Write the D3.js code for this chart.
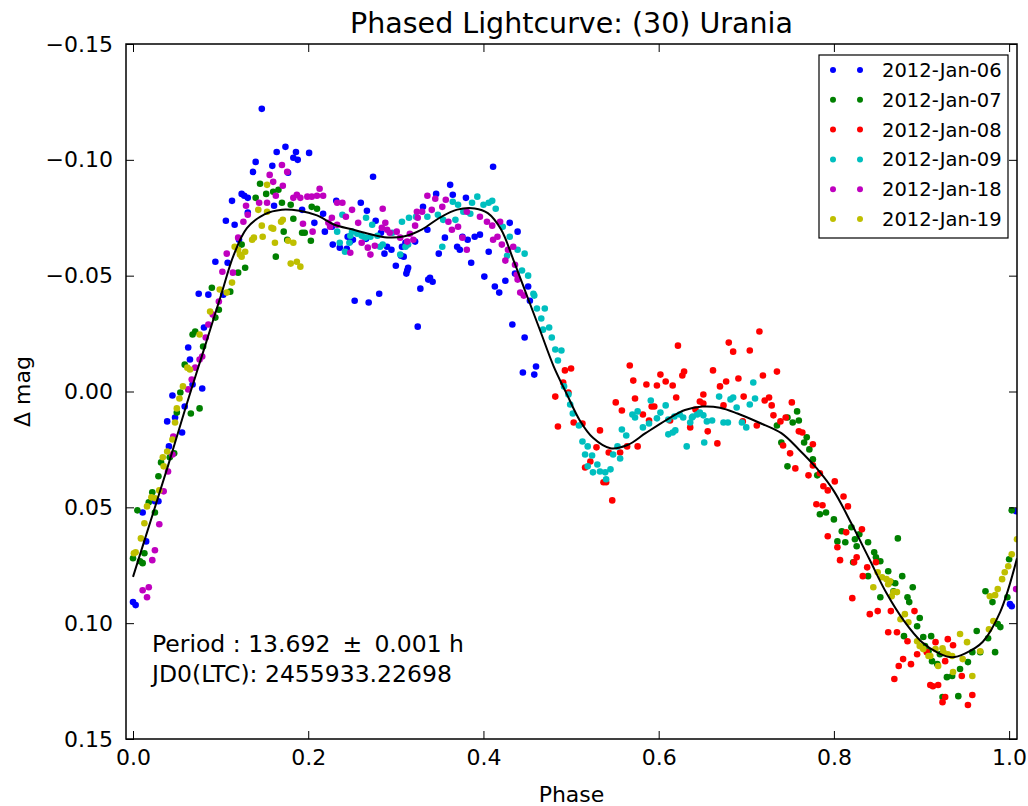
<!DOCTYPE html>
<html>
<head>
<meta charset="utf-8">
<script src="https://cdn.jsdelivr.net/npm/d3@7"></script>
<style>
  body { margin: 0; background: #fff; }
  svg { font-family: "DejaVu Sans", sans-serif; }
</style>
</head>
<body>
<svg width="1028" height="806"></svg>
<script>
// one [phase, delta mag] list per night
let jan06 = [
	[0.000,0.0909],[0.003,0.0922],[0.011,0.0522],[0.015,0.0647],[0.025,0.0474],[0.029,0.0474],[0.041,0.0237],[0.039,0.0129],
	[0.048,0.0112],[0.056,0.0177],[0.045,0.0017],[0.059,0.0065],[0.063,-0.0190],[0.065,-0.0138],[0.068,-0.0030],[0.079,-0.0013],
	[0.081,-0.0276],[0.075,-0.0422],[0.086,-0.0418],[0.103,-0.0418],[0.108,-0.0556],[0.094,-0.0560],
	[0.147,-0.1220],[0.164,-0.1034],[0.174,-0.1056],[0.186,-0.1034],[0.201,-0.1030],[0.183,-0.1009],[0.188,-0.1000],[0.140,-0.0991],
	[0.159,-0.0974],[0.137,-0.0948],[0.177,-0.0944],[0.124,-0.0853],[0.127,-0.0845],[0.131,-0.0836],[0.113,-0.0823],[0.161,-0.0802],
	[0.193,-0.0784],[0.131,-0.0772],[0.217,-0.0767],[0.207,-0.0728],[0.106,-0.0737],[0.116,-0.0720],[0.121,-0.0655],
	[0.232,-0.0823],[0.260,-0.0815],[0.267,-0.0780],[0.274,-0.0927],[0.227,-0.0711],[0.277,-0.0737],[0.245,-0.0668],[0.251,-0.0655],
	[0.228,-0.0634],[0.236,-0.0621],[0.290,-0.0625],[0.295,-0.0612],[0.307,-0.0625],[0.311,-0.0642],[0.300,-0.0543],[0.313,-0.0522],
	[0.314,-0.0534],[0.306,-0.0586],[0.309,-0.0582],[0.253,-0.0392],[0.269,-0.0384],[0.281,-0.0422],[0.328,-0.0444],[0.325,-0.0280],
	[0.337,-0.0483],[0.287,-0.0595],[0.244,-0.0616],[0.248,-0.0647],[0.266,-0.0659],[0.219,-0.0690],[0.283,-0.0685],[0.331,-0.0797],
	[0.322,-0.0647],[0.411,-0.0970],[0.362,-0.0892],[0.346,-0.0853],[0.365,-0.0849],[0.380,-0.0836],[0.336,-0.0698],[0.356,-0.0664],
	[0.376,-0.0668],[0.382,-0.0655],[0.390,-0.0668],[0.396,-0.0677],[0.430,-0.0728],[0.439,-0.0690],[0.370,-0.0625],[0.373,-0.0612],
	[0.349,-0.0595],[0.386,-0.0556],[0.406,-0.0603],[0.312,-0.0509],[0.339,-0.0491],[0.342,-0.0474],[0.401,-0.0496],[0.413,-0.0453],
	[0.418,-0.0427],[0.425,-0.0478],[0.436,-0.0509],[0.451,-0.0453],[0.453,-0.0392],[0.433,-0.0289],[0.447,-0.0233],[0.460,-0.0108],
	[0.458,-0.0073],[0.445,-0.0082],[1.001,0.0918],[1.003,0.0927],[1.008,0.0517]
];
let jan07 = [
	[0.163,-0.0582],[0.128,-0.0534],[0.090,-0.0448],[0.111,-0.0431],[0.098,-0.0353],[0.094,-0.0319],[0.071,-0.0259],[0.068,-0.0246],
	[0.080,-0.0194],[0.059,-0.0116],[0.054,0.0004],[0.076,0.0073],[0.066,0.0095],[0.050,0.0091],[0.047,0.0267],[0.042,0.0284],
	[0.032,0.0306],[0.029,0.0366],[0.022,0.0435],[0.018,0.0478],[0.005,0.0513],[0.025,0.0522],[0.013,0.0698],[0.000,0.0720],
	[0.011,0.0741],[0.008,0.0733],[0.145,-0.0897],[0.160,-0.0862],[0.166,-0.0871],[0.152,-0.0853],[0.140,-0.0836],[0.170,-0.0815],
	[0.180,-0.0806],[0.204,-0.0797],[0.210,-0.0789],[0.183,-0.0746],[0.172,-0.0690],[0.193,-0.0685],[0.196,-0.0685],[0.176,-0.0655],
	[0.203,-0.0651],[0.124,-0.0634],[0.120,-0.0513],
	[0.735,0.0147],[0.740,0.0220],[0.747,0.0112],[0.753,0.0134],[0.758,0.0086],[0.760,0.0125],[0.766,0.0220],[0.769,0.0198],
	[0.772,0.0250],[0.747,0.0323],[0.776,0.0293],[0.781,0.0362],[0.784,0.0530],[0.791,0.0522],[0.800,0.0552],[0.809,0.0603],
	[0.804,0.0647],[0.813,0.0651],[0.820,0.0586],[0.824,0.0638],[0.829,0.0616],[0.826,0.0668],[0.839,0.0651],[0.846,0.0694],
	[0.822,0.0737],[0.848,0.0716],[0.853,0.0733],[0.873,0.0634],[0.839,0.0797],[0.862,0.0776],[0.865,0.0823],[0.870,0.0828],
	[0.878,0.0797],[0.890,0.0845],[0.868,0.0862],[0.853,0.0888],[0.884,0.0888],[0.886,0.0909],[0.898,0.0978],[0.895,0.1013],
	[0.880,0.1056],[0.902,0.1060],[0.911,0.1056],[0.904,0.1099],[0.908,0.1121],[0.921,0.1134],[0.912,0.1164],[0.918,0.1177],
	[0.929,0.1233],[0.935,0.1228],[0.944,0.1198],[0.953,0.1168],[0.958,0.1125],[0.967,0.1125],[0.963,0.1034],[0.973,0.0862],
	[0.981,0.0909],[0.987,0.1004],[0.990,0.1017],[0.976,0.1065],[0.984,0.1125],[0.924,0.1319],[0.942,0.1315],[0.998,0.0888],
	[1.003,0.0513],[1.000,0.0724]
];
let jan08 = [
	[0.493,-0.0091],[0.500,-0.0099],[0.491,-0.0039],[0.497,0.0004],[0.482,0.0022],[0.503,0.0134],[0.513,0.0138],[0.485,0.0151],
	[0.522,0.0302],[0.516,0.0328],[0.533,0.0168],[0.529,0.0241],[0.537,0.0392],[0.540,0.0392],[0.547,0.0470],[0.543,0.0263],
	[0.556,0.0263],[0.551,0.0047],[0.558,0.0082],[0.564,0.0237],[0.576,0.0237],[0.573,0.0030],[0.567,-0.0112],[0.571,-0.0047],
	[0.582,0.0099],[0.586,-0.0030],[0.598,-0.0026],[0.602,-0.0073],[0.608,-0.0043],[0.616,-0.0026],[0.620,0.0026],[0.592,0.0065],
	[0.595,0.0065],[0.589,0.0125],[0.613,0.0125],[0.622,-0.0198],[0.627,-0.0069],[0.629,-0.0086],[0.636,0.0155],[0.642,0.0078],
	[0.647,0.0043],[0.651,0.0013],[0.651,0.0052],[0.656,0.0172],[0.662,-0.0091],[0.670,-0.0022],[0.677,-0.0043],[0.667,0.0224],
	[0.674,0.0060],[0.680,-0.0211],[0.685,-0.0172],[0.691,-0.0056],[0.696,0.0129],[0.697,0.0022],[0.704,-0.0177],[0.715,-0.0259],
	[0.719,-0.0069],[0.729,0.0060],[0.712,0.0147],[0.735,-0.0086],[0.731,0.0103],[0.721,0.0039],[0.726,0.0026],[0.739,0.0129],
	[0.745,0.0112],[0.752,0.0047],[0.760,0.0172],[0.764,0.0177],[0.750,0.0267],[0.742,0.0233],[0.756,0.0332],[0.771,0.0362],
	[0.776,0.0228],[0.776,0.0319],[0.784,0.0353],[0.780,0.0487],[0.788,0.0409],[0.793,0.0427],[0.801,0.0388],[0.787,0.0491],
	[0.811,0.0453],[0.816,0.0496],[0.814,0.0608],[0.832,0.0595],[0.793,0.0625],[0.804,0.0672],[0.807,0.0728],[0.823,0.0737],
	[0.826,0.0716],[0.833,0.0797],[0.838,0.0759],[0.848,0.0737],[0.821,0.0892],[0.841,0.0961],[0.850,0.0948],[0.865,0.0948],
	[0.862,0.1039],[0.872,0.1039],[0.892,0.0948],[0.884,0.1078],[0.879,0.1155],[0.874,0.1185],[0.888,0.1177],[0.869,0.1241],
	[0.910,0.1267],[0.913,0.1272],[0.919,0.1267],[0.930,0.1069],[0.936,0.1095],[0.916,0.1082],[0.906,0.1125],[0.927,0.1164],
	[0.946,0.1228],[0.927,0.1319],[0.924,0.1341],[0.958,0.1310],[0.953,0.1353],[0.895,0.1134]
];
let jan09 = [
	[0.239,-0.0763],[0.266,-0.0750],[0.233,-0.0690],[0.250,-0.0690],[0.256,-0.0681],[0.261,-0.0672],[0.265,-0.0664],[0.247,-0.0642],
	[0.271,-0.0668],[0.279,-0.0672],[0.285,-0.0634],[0.282,-0.0625],[0.296,-0.0685],[0.307,-0.0733],[0.315,-0.0750],[0.323,-0.0754],
	[0.311,-0.0625],[0.314,-0.0634],[0.242,-0.0603],[0.236,-0.0642],[0.273,-0.0720],[0.248,-0.0672],[0.305,-0.0591],
	[0.393,-0.0841],[0.365,-0.0819],[0.371,-0.0806],[0.387,-0.0815],[0.400,-0.0806],[0.406,-0.0815],[0.410,-0.0823],[0.414,-0.0789],
	[0.336,-0.0754],[0.348,-0.0763],[0.354,-0.0741],[0.377,-0.0776],[0.385,-0.0767],[0.368,-0.0741],[0.422,-0.0711],[0.430,-0.0668],
	[0.353,-0.0625],[0.427,-0.0586],[0.439,-0.0612],[0.447,-0.0595],[0.444,-0.0522],[0.451,-0.0500],[0.457,-0.0422],[0.458,-0.0414],
	[0.461,-0.0358],[0.470,-0.0358],[0.466,-0.0315],[0.475,-0.0276],[0.468,-0.0267],[0.478,-0.0233],[0.482,-0.0181],[0.489,-0.0177],
	[0.485,-0.0134],[0.492,-0.0022],[0.497,0.0013],[0.499,0.0056],[0.502,0.0095],[0.509,0.0147],[0.513,0.0216],[0.519,0.0237],
	[0.516,0.0272],[0.524,0.0276],[0.519,0.0323],[0.530,0.0315],[0.525,0.0349],[0.533,0.0345],[0.539,0.0349],[0.545,0.0336],
	[0.540,0.0379],[0.548,0.0272],[0.556,0.0289],[0.553,0.0237],[0.558,0.0164],[0.563,0.0190],[0.570,0.0099],[0.573,0.0112],
	[0.576,0.0086],[0.582,0.0155],[0.589,0.0138],[0.591,0.0039],[0.602,0.0091],[0.598,0.0116],[0.608,0.0060],[0.611,0.0185],
	[0.616,0.0177],[0.619,0.0168],[0.611,0.0121],[0.618,0.0108],[0.624,0.0099],[0.628,0.0112],[0.632,0.0237],[0.638,0.0112],
	[0.636,0.0134],[0.639,0.0108],[0.644,0.0099],[0.647,0.0091],[0.651,0.0103],[0.652,0.0220],[0.655,0.0129],[0.661,0.0125],
	[0.669,0.0022],[0.674,0.0134],[0.679,0.0134],[0.682,0.0034],[0.685,0.0026],[0.689,0.0069],[0.695,0.0134],[0.700,0.0155],
	[0.704,0.0056],[0.708,-0.0039],[0.710,0.0030]
];
let jan18 = [
	[0.107,-0.0595],[0.102,-0.0517],[0.114,-0.0513],[0.098,-0.0388],[0.091,-0.0332],[0.086,-0.0289],[0.083,-0.0233],[0.079,-0.0151],
	[0.076,-0.0138],[0.071,-0.0103],[0.067,-0.0052],[0.063,-0.0009],[0.046,0.0194],[0.045,0.0272],[0.040,0.0345],[0.035,0.0431],
	[0.030,0.0573],[0.025,0.0685],[0.022,0.0728],[0.011,0.0858],[0.018,0.0845],[0.016,0.0888],
	[0.170,-0.0978],[0.176,-0.0948],[0.156,-0.0935],[0.160,-0.0905],[0.171,-0.0888],[0.163,-0.0845],[0.187,-0.0849],[0.199,-0.0841],
	[0.204,-0.0841],[0.191,-0.0836],[0.183,-0.0836],[0.213,-0.0875],[0.217,-0.0845],[0.210,-0.0845],[0.129,-0.0802],[0.144,-0.0815],
	[0.153,-0.0815],[0.131,-0.0763],[0.194,-0.0724],[0.126,-0.0733],[0.205,-0.0690],[0.120,-0.0664],[0.233,-0.0815],[0.239,-0.0815],
	[0.285,-0.0789],[0.250,-0.0784],[0.243,-0.0754],[0.233,-0.0720],[0.225,-0.0711],[0.257,-0.0728],[0.261,-0.0642],[0.268,-0.0621],
	[0.276,-0.0629],[0.248,-0.0599],[0.290,-0.0698],[0.293,-0.0685],[0.301,-0.0690],[0.305,-0.0664],[0.313,-0.0647],[0.320,-0.0655],
	[0.284,-0.0707],[0.288,-0.0728],[0.322,-0.0716],[0.324,-0.0776],[0.336,-0.0845],[0.271,-0.0591],[0.223,-0.0728],[0.227,-0.0750],
	[0.316,-0.0681],[0.345,-0.0832],[0.353,-0.0797],[0.357,-0.0828],[0.330,-0.0776],[0.341,-0.0784],[0.325,-0.0750],[0.381,-0.0776],
	[0.396,-0.0754],[0.404,-0.0733],[0.360,-0.0733],[0.364,-0.0698],[0.371,-0.0711],[0.376,-0.0664],[0.410,-0.0716],[0.419,-0.0733],
	[0.416,-0.0668],[0.411,-0.0655],[0.381,-0.0612],[0.421,-0.0634],[0.428,-0.0612],[0.434,-0.0625],[0.425,-0.0565],[0.436,-0.0547],
	[0.438,-0.0504],[0.439,-0.0483],[0.442,-0.0427],[0.446,-0.0414],[1.008,0.0853]
];
let jan19 = [
	[0.122,-0.0591],[0.128,-0.0603],[0.113,-0.0470],[0.099,-0.0440],[0.107,-0.0427],[0.088,-0.0345],[0.076,-0.0246],[0.062,-0.0103],
	[0.065,-0.0095],[0.057,-0.0022],[0.053,0.0030],[0.050,0.0073],[0.048,0.0134],[0.045,0.0207],[0.039,0.0259],[0.034,0.0284],
	[0.035,0.0323],[0.030,0.0427],[0.021,0.0457],[0.025,0.0461],[0.016,0.0496],[0.013,0.0569],[0.009,0.0634],[0.003,0.0694],
	[0.001,0.0698],[0.153,-0.0892],[0.143,-0.0784],[0.153,-0.0776],[0.169,-0.0733],[0.171,-0.0741],[0.147,-0.0716],[0.158,-0.0707],
	[0.160,-0.0703],[0.138,-0.0664],[0.136,-0.0655],[0.148,-0.0668],[0.177,-0.0651],[0.183,-0.0642],[0.162,-0.0642],[0.116,-0.0625],
	[0.120,-0.0612],[0.124,-0.0582],[0.180,-0.0552],[0.187,-0.0560],[0.191,-0.0539],
	[0.850,0.0780],[0.855,0.0802],[0.860,0.0810],[0.864,0.0819],[0.845,0.0845],[0.862,0.0832],[0.868,0.0866],[0.872,0.0866],
	[0.866,0.0884],[0.881,0.0961],[0.876,0.0983],[0.885,0.0996],[0.895,0.1078],[0.898,0.1099],[0.902,0.1112],[0.908,0.1142],
	[0.916,0.1112],[0.924,0.1108],[0.925,0.1125],[0.930,0.1134],[0.935,0.1142],[0.919,0.1185],[0.910,0.1142],[0.944,0.1047],
	[0.952,0.1082],[0.947,0.1155],[0.936,0.1211],[0.958,0.1228],[0.967,0.1121],[0.977,0.1026],[0.982,0.0991],[0.978,0.0884],
	[0.984,0.0879],[0.987,0.0853],[0.992,0.0810],[0.995,0.0780],[0.999,0.0754],[1.003,0.0703],[1.009,0.0638]
];

// fitted Fourier curve
let fitPhase = [0.000,0.020,0.040,0.060,0.080,0.100,0.115,0.130,0.150,0.170,0.190,0.210,0.230,0.250,0.270,0.290,0.310,0.330,
	0.350,0.370,0.390,0.405,0.420,0.435,0.450,0.465,0.480,0.495,0.510,0.525,0.545,0.565,0.585,0.610,0.630,0.650,0.670,0.690,
	0.715,0.740,0.760,0.780,0.800,0.820,0.840,0.860,0.880,0.900,0.920,0.935,0.950,0.970,0.990,1.009];
let fitMag = [0.080,0.056,0.032,0.007,-0.017,-0.041,-0.059,-0.0705,-0.0765,-0.0785,-0.078,-0.076,-0.072,-0.070,-0.068,-0.0665,
	-0.067,-0.070,-0.075,-0.0785,-0.079,-0.077,-0.070,-0.056,-0.041,-0.026,-0.011,0.001,0.0125,0.020,0.0245,0.023,0.018,0.012,
	0.008,0.0065,0.007,0.0095,0.0135,0.018,0.025,0.033,0.043,0.057,0.072,0.087,0.099,0.108,0.113,0.1147,0.113,0.108,0.095,0.072];

let nights = ["2012-Jan-06", "2012-Jan-07", "2012-Jan-08", "2012-Jan-09", "2012-Jan-18", "2012-Jan-19"];
let nightData = [jan06, jan07, jan08, jan09, jan18, jan19];
let colors = ["#0000ff", "#008000", "#ff0000", "#00bfbf", "#bf00bf", "#bfbf00"];
let xTicks = [0.0, 0.2, 0.4, 0.6, 0.8, 1.0];
let yTicks = [-0.15, -0.10, -0.05, 0.00, 0.05, 0.10, 0.15];

let svg = d3.select("svg");
let width = 1028, height = 806;
let margin = {top: 44, right: 11, bottom: 67, left: 126};
let x0 = margin.left, x1 = width - margin.right;
let y0 = margin.top, y1 = height - margin.bottom;

let x = d3.scaleLinear().domain([-0.008, 1.009]).range([x0, x1]);
let y = d3.scaleLinear().domain([-0.15, 0.15]).range([y0, y1]);

svg.append("defs").append("clipPath").attr("id", "plot")
	.append("rect").attr("x", x0).attr("y", y0).attr("width", x1 - x0).attr("height", y1 - y0);

let plot = svg.append("g").attr("clip-path", "url(#plot)");

nightData.forEach((pts, i) => {
	plot.append("g")
		.attr("fill", colors[i])
		.selectAll("circle").data(pts).enter().append("circle")
		.attr("cx", d => x(d[0]))
		.attr("cy", d => y(d[1]))
		.attr("r", 3.3);
});

let line = d3.line()
	.x((d, i) => x(fitPhase[i]))
	.y(d => y(d))
	.curve(d3.curveCatmullRom);

plot.append("path")
	.attr("d", line(fitMag))
	.attr("fill", "none")
	.attr("stroke", "#000")
	.attr("stroke-width", 2);

// axes: ticks point inward on all four sides, labels only bottom/left
let fontSize = "22px";
let styleAxis = g => {
	g.select(".domain").remove();
	g.selectAll(".tick line").attr("stroke", "#000").attr("stroke-width", 1);
	g.selectAll(".tick text").attr("fill", "#000").style("font-size", fontSize).style("font-family", "DejaVu Sans");
};

svg.append("g")
	.attr("transform", `translate(0,${y1})`)
	.call(d3.axisBottom(x).tickValues(xTicks).tickFormat(d3.format(".1f")).tickSize(-8).tickPadding(10))
	.call(styleAxis);
svg.append("g")
	.attr("transform", `translate(0,${y0})`)
	.call(d3.axisTop(x).tickValues(xTicks).tickFormat("").tickSize(-8))
	.call(styleAxis);
svg.append("g")
	.attr("transform", `translate(${x0},0)`)
	.call(d3.axisLeft(y).tickValues(yTicks).tickFormat(d3.format(".2f")).tickSize(-8).tickPadding(13))
	.call(styleAxis);
svg.append("g")
	.attr("transform", `translate(${x1},0)`)
	.call(d3.axisRight(y).tickValues(yTicks).tickFormat("").tickSize(-8))
	.call(styleAxis);

svg.append("rect")
	.attr("x", x0).attr("y", y0)
	.attr("width", x1 - x0).attr("height", y1 - y0)
	.attr("fill", "none").attr("stroke", "#000").attr("stroke-width", 1.5);

// titles
svg.append("text")
	.attr("x", (x0 + x1) / 2).attr("y", 33)
	.attr("text-anchor", "middle")
	.style("font-size", "28.5px")
	.text("Phased Lightcurve: (30) Urania");

svg.append("text")
	.attr("x", (x0 + x1) / 2).attr("y", 802)
	.attr("text-anchor", "middle")
	.style("font-size", "22px")
	.text("Phase");

svg.append("text")
	.attr("transform", `translate(30,${(y0 + y1) / 2}) rotate(-90)`)
	.attr("text-anchor", "middle")
	.style("font-size", "22px")
	.text("\u0394 mag");

// period annotation
let note = svg.append("text").style("font-size", "23.5px").style("white-space", "pre");
note.append("tspan").attr("x", 152).attr("y", 652).text("Period : 13.692 \u2009\u00b1\u2009 0.001 h");
note.append("tspan").attr("x", 152).attr("y", 682).text("JD0(LTC): 2455933.22698");

// legend
let legend = svg.append("g");
legend.append("rect")
	.attr("x", 819).attr("y", 55).attr("width", 189).attr("height", 183)
	.attr("fill", "#fff").attr("stroke", "#000").attr("stroke-width", 1.2);

nights.forEach((name, i) => {
	let ry = 70 + i * 29.8;
	legend.selectAll(null).data([833, 860]).enter().append("circle")
		.attr("cx", d => d).attr("cy", ry).attr("r", 3)
		.attr("fill", colors[i]);
	legend.append("text")
		.attr("x", 882).attr("y", ry).attr("dy", "0.36em")
		.style("font-size", "19.5px")
		.text(name);
});
</script>
</body>
</html>
